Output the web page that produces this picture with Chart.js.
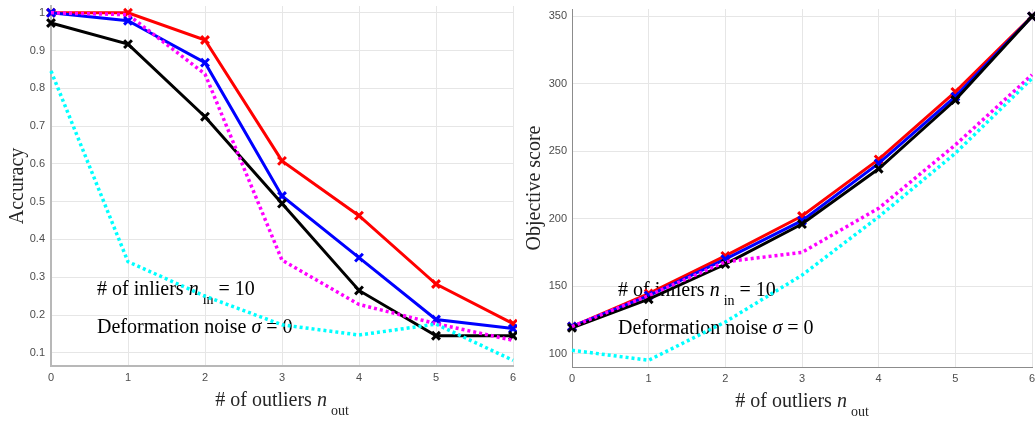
<!DOCTYPE html>
<html>
<head>
<meta charset="utf-8">
<script src="https://cdn.jsdelivr.net/npm/chart.js@4.4.1/dist/chart.umd.min.js"></script>
<style>
  html, body { margin: 0; padding: 0; background: #fff; }
  .wrap { position: relative; width: 1035px; height: 423px; }
  .box { position: absolute; top: 0; height: 423px; }
  .box1 { left: 0; width: 517px; }
  .box2 { left: 517px; width: 518px; }
</style>
</head>
<body>
<div class="wrap">
  <div class="box box1"><canvas id="accChart"></canvas></div>
  <div class="box box2"><canvas id="objChart"></canvas></div>
</div>
<script>
// number of outliers on the x axis
const outliers = [0, 1, 2, 3, 4, 5, 6];

// accuracy (left panel)
const accRed     = [1.0, 1.0, 0.928, 0.608, 0.463, 0.282, 0.177];
const accBlue    = [1.0, 0.979, 0.868, 0.515, 0.352, 0.188, 0.164];
const accBlack   = [0.973, 0.917, 0.725, 0.495, 0.265, 0.145, 0.145];
const accMagenta = [1.0, 0.995, 0.838, 0.345, 0.228, 0.177, 0.133];
const accCyan    = [0.846, 0.341, 0.25, 0.174, 0.147, 0.176, 0.08];
const accTicks   = [0.1, 0.2, 0.3, 0.4, 0.5, 0.6, 0.7, 0.8, 0.9, 1];

// objective score (right panel)
const objRed     = [120, 144.5, 172.4, 202, 244, 294, 350];
const objBlue    = [120, 143, 170, 198.5, 241, 290.5, 350];
const objBlack   = [119, 140.3, 166.3, 196, 237, 288, 350];
const objMagenta = [120, 143, 168, 175, 207.7, 254.7, 306.7];
const objCyan    = [102.4, 95, 123.4, 158.1, 201.4, 248.5, 304];
const objTicks   = [100, 150, 200, 250, 300, 350];

const SERIF = '"Liberation Serif", "Times New Roman", serif';
const SANS = '"Liberation Sans", Arial, sans-serif';

// text with italic symbols and subscripts (MATLAB tex style)
function richWidth(ctx, parts) {
    let w = 0;
    for (const p of parts) {
        ctx.font = (p.italic ? "italic " : "") + (p.sub ? 14 : 20) + "px " + SERIF;
        w += ctx.measureText(p.t).width + (p.sub ? 4 : 0);
    }
    return w;
}
function drawRich(ctx, parts, x, y) {
    let cx = x;
    for (const p of parts) {
        ctx.font = (p.italic ? "italic " : "") + (p.sub ? 14 : 20) + "px " + SERIF;
        if (p.sub) cx += 4;
        ctx.fillText(p.t, cx, y + (p.sub ? 9 : 0));
        cx += ctx.measureText(p.t).width;
    }
}

const notePlugin = {
    id: "notes",
    beforeDatasetsDraw(chart) {
        const ctx = chart.ctx, a = chart.chartArea;
        ctx.save();
        ctx.fillStyle = "#000";
        ctx.textBaseline = "alphabetic";
        ctx.textAlign = "left";
        drawRich(ctx, [{ t: "# of inliers " }, { t: "n", italic: true }, { t: "in", sub: true }, { t: " = 10" }], a.left + 46, a.bottom - 71);
        drawRich(ctx, [{ t: "Deformation noise " }, { t: "σ", italic: true }, { t: " = 0" }], a.left + 46, a.bottom - 33);
        ctx.restore();
    },
    afterDraw(chart) {
        const ctx = chart.ctx, a = chart.chartArea;
        const parts = [{ t: "# of outliers " }, { t: "n", italic: true }, { t: "out", sub: true }];
        ctx.save();
        ctx.fillStyle = "#262626";
        ctx.textBaseline = "alphabetic";
        ctx.textAlign = "left";
        const w = richWidth(ctx, parts);
        drawRich(ctx, parts, (a.left + a.right) / 2 - w / 2, a.bottom + 40);
        ctx.restore();
    }
};

function series(values, color, dotted, order) {
    return {
        data: outliers.map((x, i) => ({ x: x, y: values[i] })),
        borderColor: color,
        backgroundColor: color,
        borderWidth: dotted ? 3.5 : 3,
        borderDash: dotted ? [3, 3] : [],
        pointStyle: "crossRot",
        pointRadius: dotted ? 0 : 5.5,
        pointBorderWidth: 3,
        pointHoverRadius: 0,
        tension: 0,
        clip: false,
        order: order
    };
}

function createChart(id, datasets, yTicks, yMin, yMax, yTitle, frame) {
    return new Chart(document.getElementById(id), {
        type: "line",
        data: { datasets: datasets },
        options: {
            responsive: true,
            maintainAspectRatio: false,
            animation: false,
            events: [],
            layout: { autoPadding: false, padding: { top: frame.top, right: frame.right, left: 0, bottom: 0 } },
            plugins: { legend: { display: false }, tooltip: { enabled: false } },
            scales: {
                x: {
                    type: "linear",
                    min: 0,
                    max: 6,
                    afterFit: s => { s.height = frame.xh; s.paddingLeft = 0; s.paddingRight = 0; },
                    ticks: { stepSize: 1, padding: 5, color: "#4d4d4d", font: { family: SANS, size: 11 } },
                    grid: { color: "#e6e6e6", drawTicks: false },
                    border: { color: frame.axis, width: frame.axisW }
                },
                y: {
                    min: yMin,
                    max: yMax,
                    afterFit: s => { s.width = frame.yw; s.paddingTop = 0; s.paddingBottom = 0; },
                    afterBuildTicks: s => { s.ticks = yTicks.map(v => ({ value: v })); },
                    ticks: {
                        padding: frame.tp,
                        color: "#4d4d4d",
                        font: { family: SANS, size: 11 },
                        callback: v => String(v)
                    },
                    grid: { color: "#e6e6e6", drawTicks: false },
                    border: { color: frame.axis, width: frame.axisW },
                    title: {
                        display: true,
                        text: yTitle,
                        color: "#262626",
                        font: { family: SERIF, size: 20 },
                        padding: { top: 6, bottom: 0 }
                    }
                }
            }
        },
        plugins: [notePlugin]
    });
}

const accChart = createChart("accChart", [
    series(accRed, "#ff0000", false, 4),
    series(accBlue, "#0000ff", false, 3),
    series(accBlack, "#000000", false, 2),
    series(accMagenta, "#ff00ff", true, 1),
    series(accCyan, "#00ffff", true, 0)
], accTicks, 0.065, 1.018, "Accuracy",
    { top: 6, right: 4, yw: 51, xh: 57, tp: 6, axis: "#b8b8b8", axisW: 2 });

const objChart = createChart("objChart", [
    series(objRed, "#ff0000", false, 4),
    series(objBlue, "#0000ff", false, 3),
    series(objBlack, "#000000", false, 2),
    series(objMagenta, "#ff00ff", true, 1),
    series(objCyan, "#00ffff", true, 0)
], objTicks, 90, 355.5, "Objective score",
    { top: 9, right: 3, yw: 55, xh: 56, tp: 5, axis: "#8c8c8c", axisW: 1 });
</script>
</body>
</html>
